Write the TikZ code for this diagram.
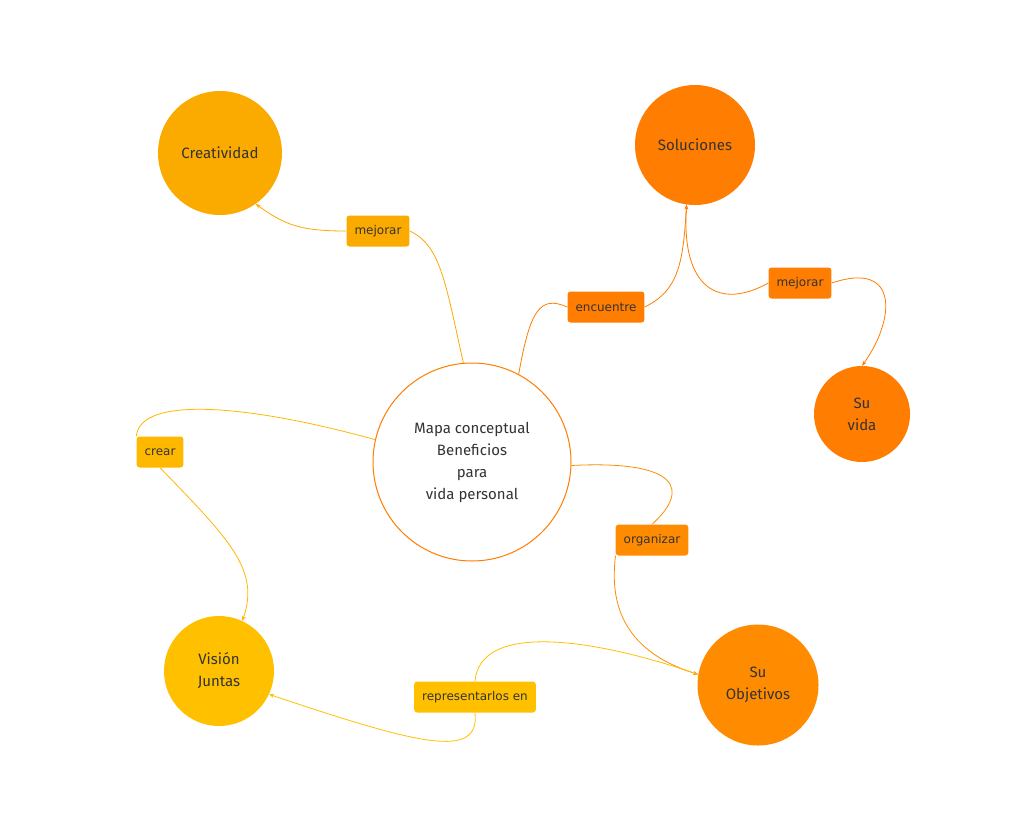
\documentclass[tikz,border=0pt]{standalone}
\usepackage{fontspec}
\setmainfont{DejaVu Sans}
\newfontfamily\hand{Fira Sans}
\usetikzlibrary{arrows.meta}
\definecolor{cA}{HTML}{FBAA00}
\definecolor{cB}{HTML}{FF7D00}
\definecolor{cC}{HTML}{FF8C00}
\definecolor{cD}{HTML}{FFC000}
\definecolor{cE}{HTML}{FFB800}
\definecolor{txt}{HTML}{333333}
\begin{document}
\begin{tikzpicture}[x=1pt,y=-1pt,
  bub/.style={circle,inner sep=0pt,text=txt,font=\hand\fontsize{15}{22}\selectfont,align=center},
  lab/.style={rounded corners=3pt,text=txt,font=\fontsize{12}{14}\selectfont,minimum height=31pt,inner xsep=8pt},
  con/.style={line width=0.8pt},
  arr/.style={con,-{Stealth[length=5pt,width=4pt]}}]
\useasboundingbox (0,0) rectangle (1016,830);
\node[bub,draw=cB,line width=1pt,fill=white,minimum size=198pt] (c) at (472,462) {Mapa conceptual\\Beneficios\\para\\vida personal};
\node[bub,fill=cA,minimum size=124pt] (cr) at (220,153) {Creatividad};
\node[bub,fill=cB,minimum size=120pt] (so) at (695,145) {Soluciones};
\node[bub,fill=cB,minimum size=96pt] (sv) at (862,414) {Su\\vida};
\node[bub,fill=cC,minimum size=121pt] (ob) at (758,685) {Su\\Objetivos};
\node[bub,fill=cD,minimum size=110pt] (vi) at (219,671) {Visión\\Juntas};
\node[lab,fill=cA] (l1) at (378,231) {mejorar};
\node[lab,fill=cB] (l2) at (606,307) {encuentre};
\node[lab,fill=cB] (l3) at (800,283) {mejorar};
\node[lab,fill=cE] (l4) at (160,452) {crear};
\node[lab,fill=cC] (l5) at (652,540) {organizar};
\node[lab,fill=cD] (l6) at (475,697) {representarlos en};
\draw[con,cA] (c.95) .. controls (445,280) and (440,245) .. (l1.east);
\draw[arr,cA] (l1.west) .. controls (300,231) and (285,225) .. (cr.-55);
\draw[con,cB] (c.62) .. controls (530,310) and (540,295) .. (l2.west);
\draw[arr,cB] (l2.east) .. controls (680,290) and (683,260) .. (so.-98);
\draw[con,cB] (so.-98) .. controls (680,290) and (720,310) .. (l3.west);
\draw[arr,cB] (l3.east) .. controls (900,260) and (895,320) .. (sv.north);
\draw[con,cE] (c.167) .. controls (250,405) and (140,395) .. (l4.north west);
\draw[arr,cE] (l4.south) .. controls (230,540) and (260,570) .. (vi.65);
\draw[con,cC] (c.-2) .. controls (680,460) and (690,490) .. (l5.north);
\draw[arr,cC] (l5.south west) .. controls (610,600) and (620,650) .. (ob.170);
\draw[con,cD] (ob.170) .. controls (600,640) and (480,620) .. (l6.north);
\draw[arr,cD] (l6.south) .. controls (480,760) and (420,745) .. (vi.-25);
\end{tikzpicture}
\end{document}
